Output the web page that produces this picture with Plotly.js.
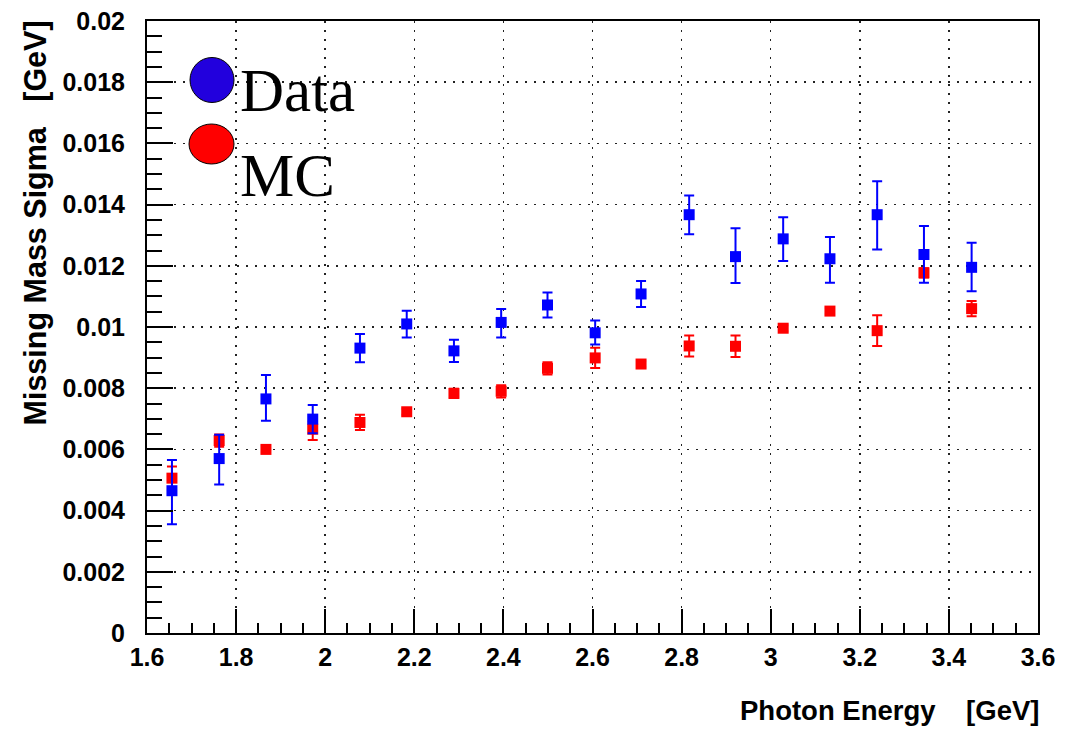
<!DOCTYPE html>
<html>
<head>
<meta charset="utf-8">
<script src="https://cdn.plot.ly/plotly-3.0.1.min.js"></script>
<style>html,body{margin:0;padding:0;background:#fff;}#chart{width:1079px;height:730px;}</style>
</head>
<body>
<div id="chart"></div>
<script>
// Photon energy bin centres [GeV]
const photonEnergy = [1.656, 1.762, 1.867, 1.972, 2.078, 2.183, 2.289, 2.395, 2.499, 2.606, 2.709, 2.817, 2.921, 3.028, 3.133, 3.239, 3.344, 3.451];

// Data series (blue)
const dataSigma    = [0.00465, 0.00570, 0.00765, 0.00699, 0.00931, 0.01010, 0.00922, 0.01015, 0.01072, 0.00981, 0.01108, 0.01367, 0.01230, 0.01288, 0.01223, 0.01367, 0.01237, 0.01195];
const dataErrUp    = [0.00100, 0.00078, 0.00078, 0.00046, 0.00046, 0.00043, 0.00036, 0.00044, 0.00041, 0.00040, 0.00042, 0.00063, 0.00093, 0.00071, 0.00071, 0.00109, 0.00093, 0.00080];
const dataErrDown  = [0.00110, 0.00085, 0.00071, 0.00046, 0.00046, 0.00044, 0.00036, 0.00049, 0.00041, 0.00038, 0.00043, 0.00064, 0.00086, 0.00072, 0.00078, 0.00114, 0.00092, 0.00078];

// MC series (red)
const mcSigma      = [0.00506, 0.00629, 0.00600, 0.00666, 0.00688, 0.00723, 0.00783, 0.00790, 0.00865, 0.00899, 0.00879, 0.00938, 0.00937, 0.00996, 0.01052, 0.00988, 0.01177, 0.01060];
const mcErrUp      = [0.00038, 0.00020, 0.00010, 0.00025, 0.00025, 0.00010, 0.00015, 0.00020, 0.00020, 0.00033, 0.00010, 0.00034, 0.00035, 0.00010, 0.00010, 0.00050, 0.00015, 0.00025];
const mcErrDown    = [0.00038, 0.00020, 0.00010, 0.00035, 0.00025, 0.00010, 0.00015, 0.00020, 0.00020, 0.00033, 0.00010, 0.00034, 0.00035, 0.00010, 0.00010, 0.00050, 0.00015, 0.00025];

// Tick labels
const xTickVals = [1.6, 1.8, 2.0, 2.2, 2.4, 2.6, 2.8, 3.0, 3.2, 3.4, 3.6];
const xTickText = ["1.6", "1.8", "2", "2.2", "2.4", "2.6", "2.8", "3", "3.2", "3.4", "3.6"];
const yTickVals = [0, 0.002, 0.004, 0.006, 0.008, 0.010, 0.012, 0.014, 0.016, 0.018, 0.020];
const yTickText = ["0", "0.002", "0.004", "0.006", "0.008", "0.01", "0.012", "0.014", "0.016", "0.018", "0.02"];

// Legend entries
const legendLabels = ["Data", "MC"];
const legendColors = ["#2200dd", "#ff0000"];

const L = 147, R = 41, T = 21, B = 97, W = 1079, H = 730;
const pw = W - L - R, ph = H - T - B;
const px = x => (x - L) / pw;
const py = y => (H - B - y) / ph;

const tickFont = {family: "Liberation Sans, Arial, sans-serif", size: 25, color: "#000", weight: "bold"};

const mcTrace = {
  x: photonEnergy, y: mcSigma, type: "scatter", mode: "markers", name: "MC",
  marker: {symbol: "square", size: 11, color: "#ff0000"},
  error_y: {type: "data", symmetric: false, array: mcErrUp, arrayminus: mcErrDown, color: "#ff0000", thickness: 2, width: 5},
  showlegend: false, hoverinfo: "x+y"
};
const dataTrace = {
  x: photonEnergy, y: dataSigma, type: "scatter", mode: "markers", name: "Data",
  marker: {symbol: "square", size: 11, color: "#0000ff"},
  error_y: {type: "data", symmetric: false, array: dataErrUp, arrayminus: dataErrDown, color: "#0000ff", thickness: 2, width: 5},
  showlegend: false, hoverinfo: "x+y"
};

const axisCommon = {
  showline: true, linecolor: "#000", linewidth: 2, mirror: true,
  ticks: "inside", tickcolor: "#000", tickwidth: 2,
  showgrid: true, gridcolor: "#222", gridwidth: 1.5, griddash: "2px,7px",
  zeroline: false, tickfont: tickFont, tickmode: "array"
};

const layout = {
  width: W, height: H,
  margin: {l: L, r: R, t: T, b: B, pad: 0},
  paper_bgcolor: "#fff", plot_bgcolor: "#fff",
  showlegend: false,
  xaxis: Object.assign({}, axisCommon, {
    range: [1.6, 3.6], tickvals: xTickVals, ticktext: xTickText, ticklen: 24,
    ticklabelstandoff: 1,
    minor: {tick0: 1.6, dtick: 0.05, ticks: "inside", ticklen: 10, tickwidth: 2, tickcolor: "#000", showgrid: false}
  }),
  yaxis: Object.assign({}, axisCommon, {
    range: [0, 0.02], tickvals: yTickVals, ticktext: yTickText, ticklen: 26,
    ticklabelstandoff: 15,
    minor: {tick0: 0, dtick: 0.0005, ticks: "inside", ticklen: 15, tickwidth: 2, tickcolor: "#000", showgrid: false}
  }),
  annotations: [
    {text: "Photon Energy\u00a0\u00a0\u00a0\u00a0[GeV]", xref: "paper", yref: "paper",
     x: px(1041), y: py(710), xanchor: "right", yanchor: "middle", showarrow: false,
     font: {family: "Liberation Sans, Arial, sans-serif", size: 27.5, color: "#000", weight: "bold"}},
    {text: "Missing Mass Sigma\u00a0\u00a0\u00a0[GeV]", xref: "paper", yref: "paper", textangle: -90,
     x: px(35), y: py(19), xanchor: "center", yanchor: "top", showarrow: false,
     font: {family: "Liberation Sans, Arial, sans-serif", size: 30.5, color: "#000", weight: "bold"}},
    {text: legendLabels[0], xref: "paper", yref: "paper", x: px(238), y: py(112), xanchor: "left", yanchor: "bottom",
     showarrow: false, font: {family: "Liberation Serif, Times New Roman, serif", size: 61, color: "#000"}, yshift: -14},
    {text: legendLabels[1], xref: "paper", yref: "paper", x: px(238), y: py(197), xanchor: "left", yanchor: "bottom",
     showarrow: false, font: {family: "Liberation Serif, Times New Roman, serif", size: 61, color: "#000"}, yshift: -14}
  ],
  shapes: [
    {type: "circle", xref: "paper", yref: "paper", x0: px(190), x1: px(234), y0: py(57.5), y1: py(102.5),
     fillcolor: legendColors[0], line: {color: "#000", width: 1}},
    {type: "circle", xref: "paper", yref: "paper", x0: px(189), x1: px(234), y0: py(124), y1: py(164),
     fillcolor: legendColors[1], line: {color: "#000", width: 1}}
  ]
};

Plotly.newPlot("chart", [mcTrace, dataTrace], layout, {staticPlot: true, displayModeBar: false});
</script>
</body>
</html>
